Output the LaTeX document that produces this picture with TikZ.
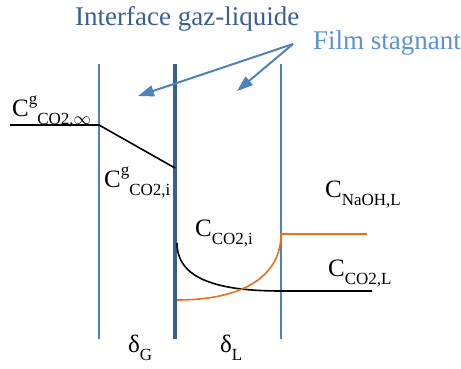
\documentclass[tikz,border=0pt]{standalone}
\usepackage{fontspec}
\setmainfont{Liberation Serif}
\usetikzlibrary{arrows.meta}
\definecolor{wallblue}{HTML}{4F81BD}
\definecolor{ifblue}{HTML}{3A5F92}
\definecolor{filmblue}{HTML}{5B92D2}
\definecolor{naorange}{HTML}{E8711A}
\newcommand{\lowtxt}[1]{\raisebox{-8pt}{\fontsize{17}{20}\selectfont #1}}
\newcommand{\hightxt}[1]{\raisebox{12pt}{\fontsize{17}{20}\selectfont #1}}
\tikzset{
  wall/.style={line width=1.6pt,wallblue},
  iface/.style={line width=3.5pt,ifblue},
  lbl/.style={anchor=base west,inner sep=0pt,font=\fontsize{25}{30}\selectfont},
  ttl/.style={anchor=base west,inner sep=0pt,font=\fontsize{27}{32}\selectfont,#1},
  ptr/.style={-{Triangle[length=16pt,width=11pt]},line width=2pt,wallblue},
  prof/.style={line width=1.6pt,#1},
}

\begin{document}
\begin{tikzpicture}[x=1pt,y=-1pt]
  \useasboundingbox (0,0) rectangle (461,369);
  % titles
  \node[ttl=ifblue] (iface) at (75,26) {Interface gaz-liquide};
  \node[ttl=filmblue] (film) at (313,50) {Film stagnant};
  % film walls and interface
  \draw[wall] (99,64) -- (99,339);
  \draw[wall] (281,64) -- (281,339);
  \draw[iface] (175,64) -- (175,339);
  % pointers to the films
  \coordinate (fs) at (293,44);
  \coordinate (filmG) at (138,96);
  \coordinate (filmL) at (237,91);
  \draw[ptr] (fs) -- (filmG);
  \draw[ptr] (fs) -- (filmL);
  % concentration profiles
  \draw[prof=black] (10,125) -- (99,125) -- (175,168);
  \draw[prof=black] (177,243) .. controls (177,280) and (220,291) .. (281,291) -- (372,291);
  \draw[prof=naorange] (177,300) .. controls (245,300) and (281,275) .. (281,234) -- (367,234);
  % labels
  \node[lbl] (cginf) at (12,117) {C\hightxt{g}\lowtxt{CO2,$\infty$}};
  \node[lbl] (cgi) at (104,187) {C\hightxt{g}\lowtxt{CO2,i}};
  \node[lbl] (cli) at (195,236) {C\lowtxt{CO2,i}};
  \node[lbl] (cnaoh) at (325,197) {C\lowtxt{NaOH,L}};
  \node[lbl] (cll) at (328,276) {C\lowtxt{CO2,L}};
  \node[lbl] (dg) at (128,352) {δ\lowtxt{G}};
  \node[lbl] (dl) at (220,352) {δ\lowtxt{L}};
\end{tikzpicture}
\end{document}
